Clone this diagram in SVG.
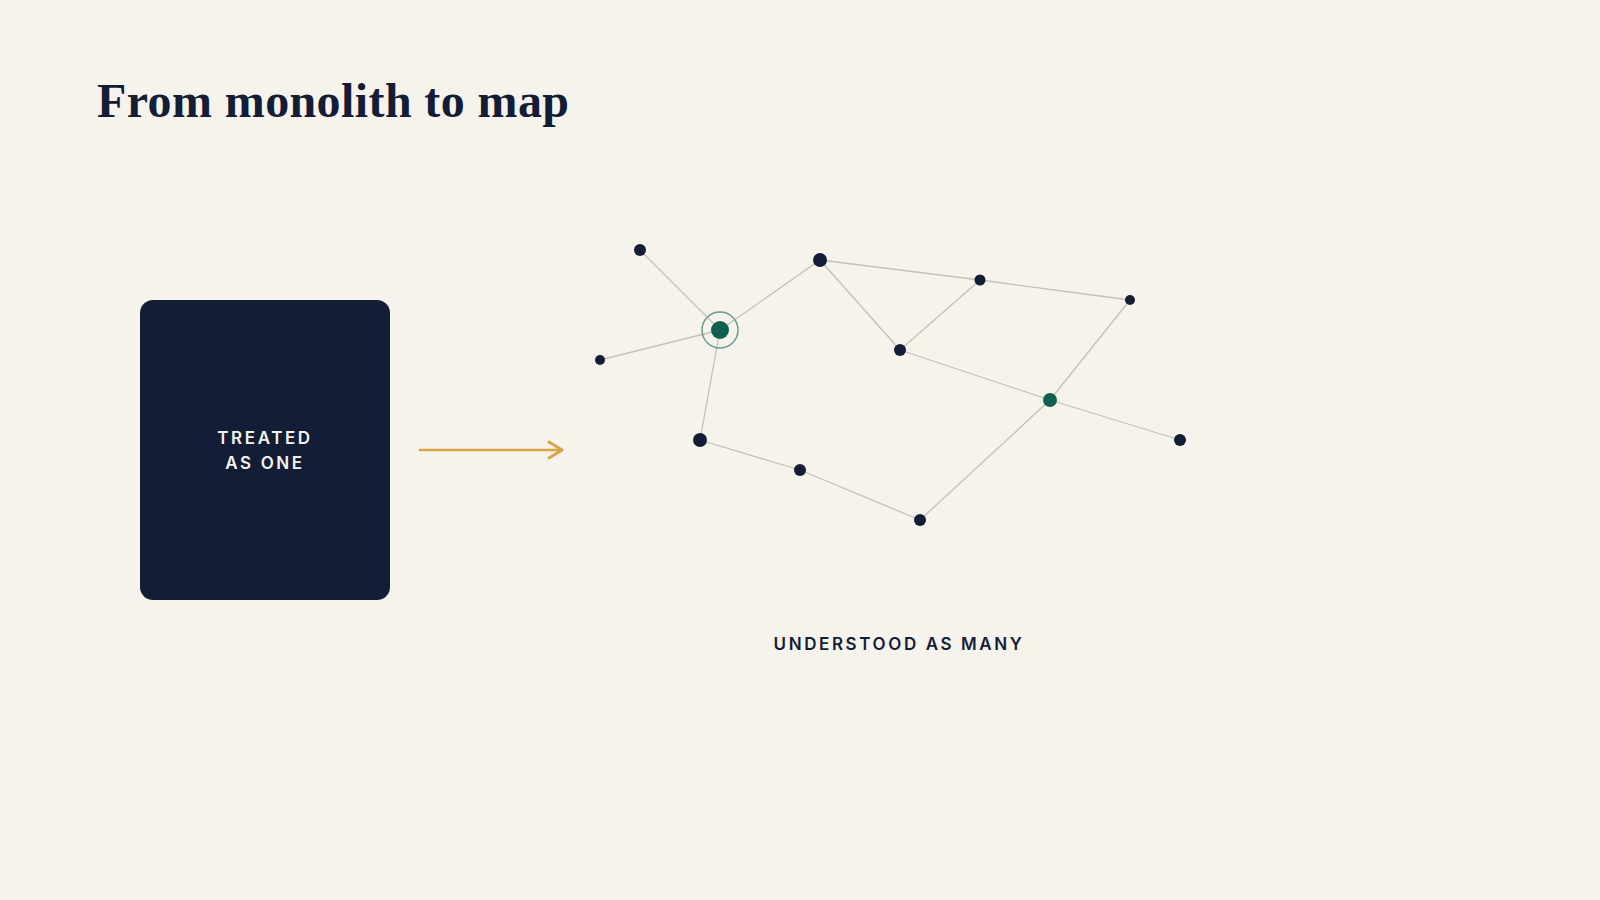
<svg xmlns="http://www.w3.org/2000/svg" width="1600" height="900" viewBox="0 0 1600 900">
<style>
.edge{stroke:#C3C0B6;stroke-width:1.3;fill:none}
.n{fill:#131D36}
.g{fill:#11604F}
.cap{font-family:Inter,"Liberation Sans",sans-serif;font-weight:600;letter-spacing:2.6px;text-anchor:middle}
</style>
<rect width="1600" height="900" fill="#F6F3EC"/>
<text x="97" y="117" font-family="'Liberation Serif',serif" font-weight="700" font-size="48" letter-spacing="0.4" fill="#131D36">From monolith to map</text>
<g id="monolith">
<rect x="140" y="300" width="250" height="300" rx="13" fill="#131D36"/>
<text class="cap" x="265" y="444" font-size="17" fill="#F6F3EC">TREATED</text>
<text class="cap" x="265" y="469" font-size="17" fill="#F6F3EC">AS ONE</text>
</g>
<g id="arrow" stroke="#D9A441" stroke-width="2.5" fill="none" stroke-linecap="round" stroke-linejoin="round">
<line x1="420" y1="450" x2="562" y2="450"/>
<polyline points="549,442 562,450 549,458" stroke-width="3"/>
</g>
<g id="connectors">
<line class="edge" x1="640" y1="250" x2="720" y2="330"/>
<line class="edge" x1="600" y1="360" x2="720" y2="330"/>
<line class="edge" x1="720" y1="330" x2="820" y2="260"/>
<line class="edge" x1="720" y1="330" x2="700" y2="440"/>
<line class="edge" x1="820" y1="260" x2="980" y2="280"/>
<line class="edge" x1="980" y1="280" x2="1130" y2="300"/>
<line class="edge" x1="820" y1="260" x2="900" y2="350"/>
<line class="edge" x1="900" y1="350" x2="980" y2="280"/>
<line class="edge" x1="900" y1="350" x2="1050" y2="400"/>
<line class="edge" x1="1130" y1="300" x2="1050" y2="400"/>
<line class="edge" x1="1050" y1="400" x2="1180" y2="440"/>
<line class="edge" x1="1050" y1="400" x2="920" y2="520"/>
<line class="edge" x1="700" y1="440" x2="800" y2="470"/>
<line class="edge" x1="800" y1="470" x2="920" y2="520"/>
</g>
<g id="hub">
<circle cx="720" cy="330" r="18" fill="none" stroke="#6E9B8C" stroke-width="1.5"/>
<circle class="g" cx="720" cy="330" r="9"/>
</g>
<g id="n1"><circle class="n" cx="640" cy="250" r="6"/></g>
<g id="n2"><circle class="n" cx="600" cy="360" r="5"/></g>
<g id="n3"><circle class="n" cx="820" cy="260" r="7"/></g>
<g id="n4"><circle class="n" cx="700" cy="440" r="7"/></g>
<g id="n5"><circle class="n" cx="980" cy="280" r="5.5"/></g>
<g id="n6"><circle class="n" cx="1130" cy="300" r="5"/></g>
<g id="n7"><circle class="n" cx="900" cy="350" r="6"/></g>
<g id="n8"><circle class="g" cx="1050" cy="400" r="7"/></g>
<g id="n9"><circle class="n" cx="1180" cy="440" r="6"/></g>
<g id="n10"><circle class="n" cx="800" cy="470" r="6"/></g>
<g id="n11"><circle class="n" cx="920" cy="520" r="6"/></g>
<text class="cap" x="899" y="650" font-size="17" fill="#131D36">UNDERSTOOD AS MANY</text>
</svg>
